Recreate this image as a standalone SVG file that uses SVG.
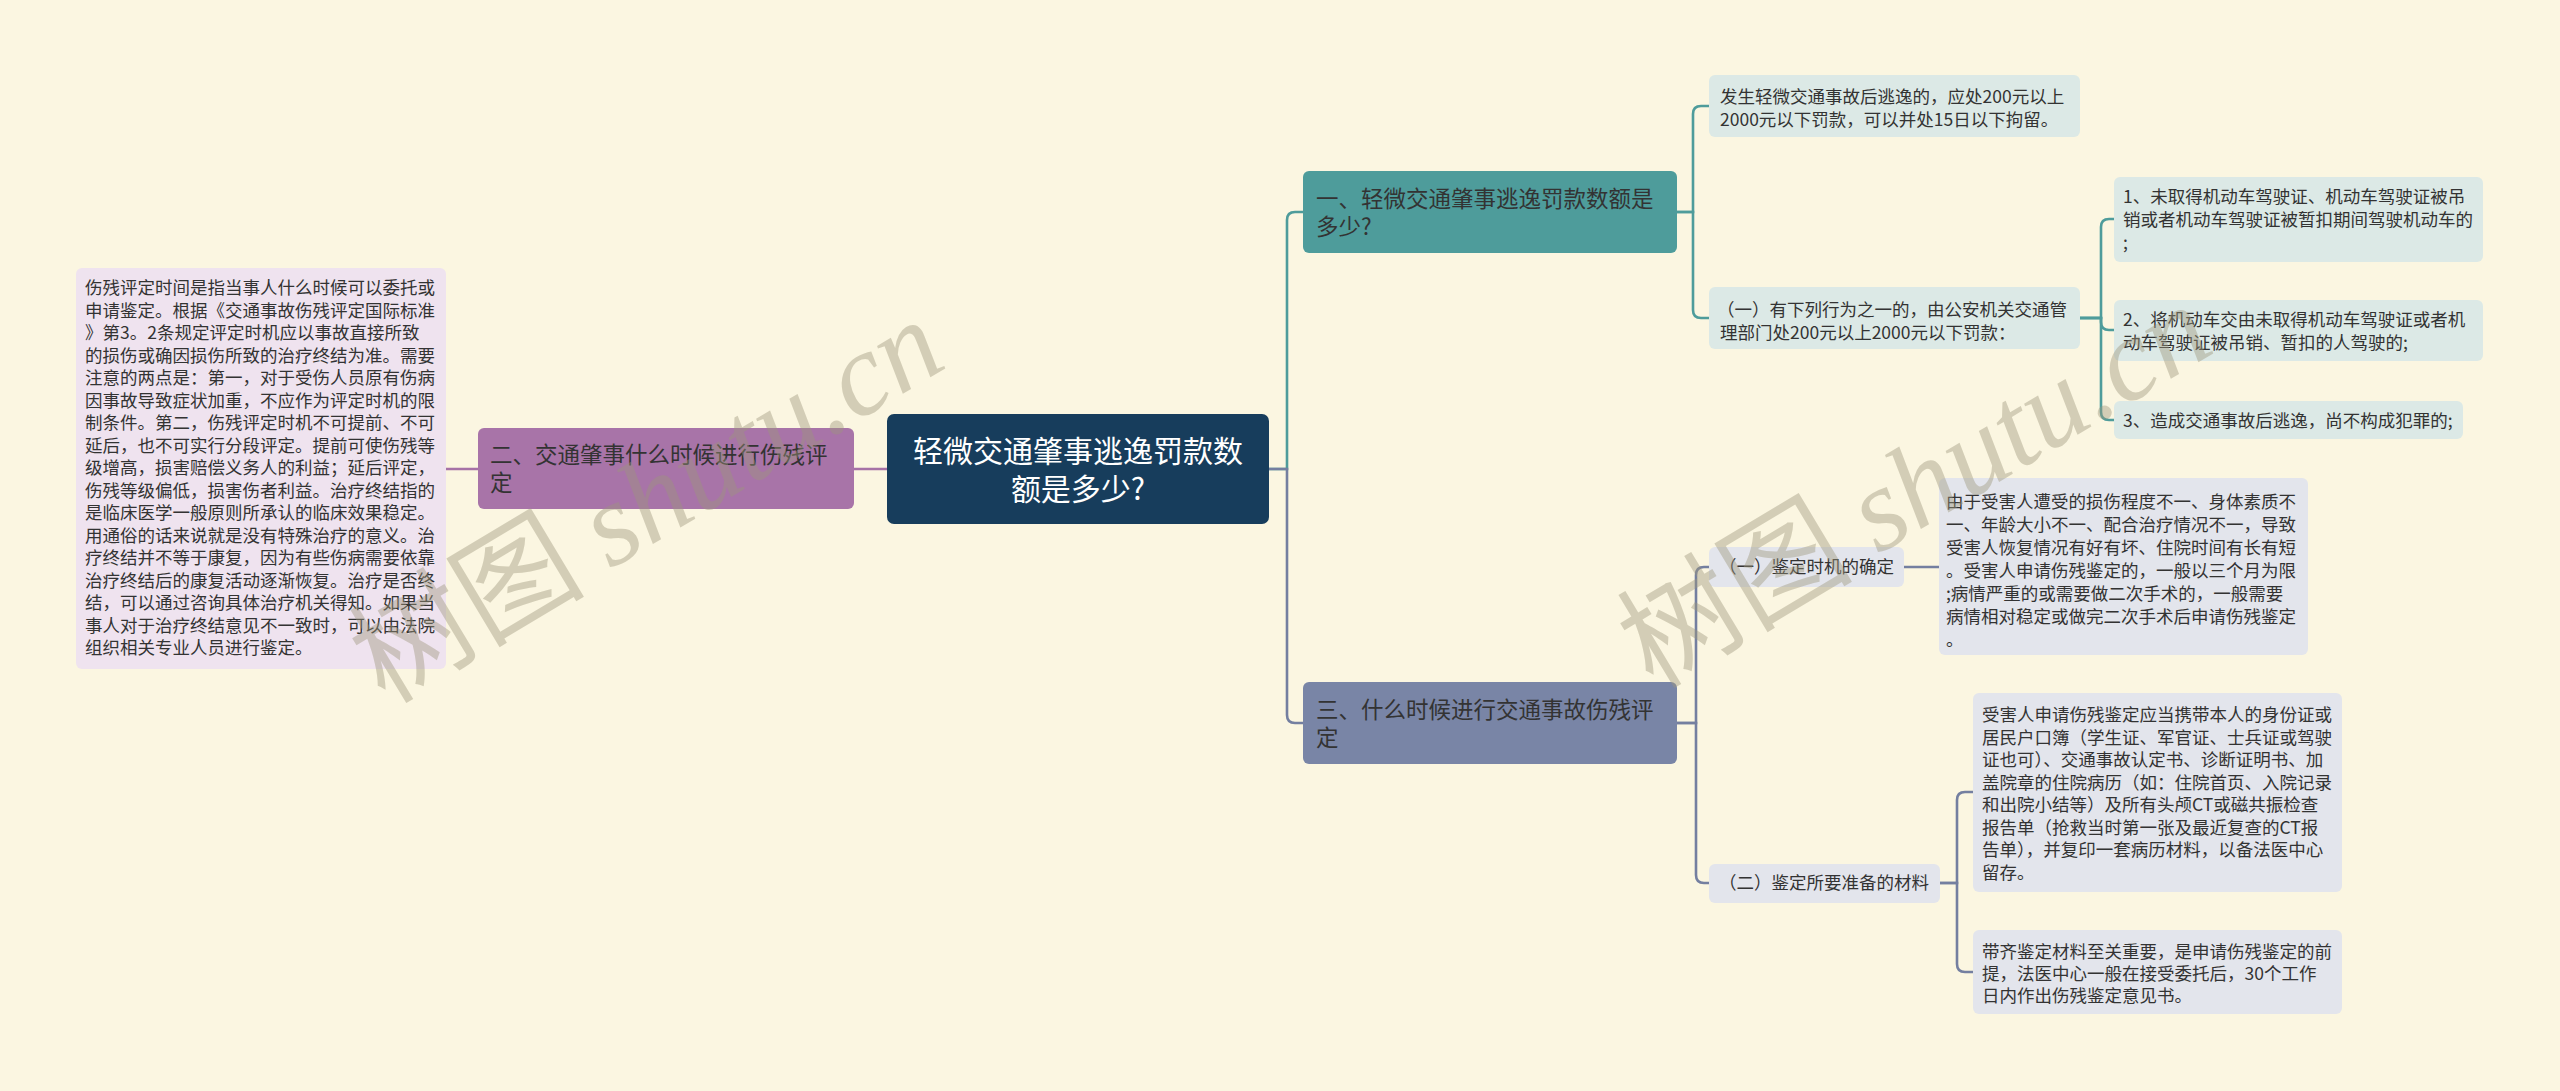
<svg xmlns="http://www.w3.org/2000/svg" width="2560" height="1091" viewBox="0 0 2560 1091">
<style>
text{font-family:"Noto Sans CJK SC","Liberation Sans",sans-serif;fill:#333;}
.c{fill:none;stroke-width:2.6;stroke-linecap:round;}
.pc{stroke:#a672a6;}
.tc{stroke:#4e9c9b;}
.sc{stroke:#747fa0;}
.t{font-size:17.5px;}
.b{font-size:22.5px;}
.center{font-size:30px;fill:#fff;text-anchor:middle;}
.lp{fill:#efe3ef;}
.lt{fill:#dce9e6;}
.ls{fill:#e3e5ec;}
.wm{font-size:118px;fill:#9e977c;opacity:0.42;}
</style>
<rect x="0" y="0" width="2560" height="1091" fill="#fbf6e1"/>
<g id="connectors">
<path class="c pc" d="M887 469 H854"/>
<path class="c pc" d="M478 469 H446"/>
<path class="c tc" d="M1269 469 H1287 V220 Q1287 212 1295 212 H1303"/>
<path class="c sc" d="M1269 469 H1287 V715 Q1287 723 1295 723 H1303"/>
<path class="c tc" d="M1677 212 H1693 V114 Q1693 106 1701 106 H1709"/>
<path class="c tc" d="M1677 212 H1693 V310 Q1693 318 1701 318 H1709"/>
<path class="c tc" d="M2080 318 H2101 V227 Q2101 219 2109 219 H2114"/>
<path class="c tc" d="M2080 318 H2101 V322 Q2101 330 2109 330 H2114"/>
<path class="c tc" d="M2080 318 H2101 V412 Q2101 420 2109 420 H2114"/>
<path class="c sc" d="M1677 723 H1696 V575 Q1696 567 1704 567 H1709"/>
<path class="c sc" d="M1677 723 H1696 V875 Q1696 883 1704 883 H1709"/>
<path class="c sc" d="M1904 567 H1939"/>
<path class="c sc" d="M1940 883 H1957 V800 Q1957 792 1965 792 H1973"/>
<path class="c sc" d="M1940 883 H1957 V964 Q1957 972 1965 972 H1973"/>
</g>
<g id="node-center">
<rect x="887" y="414" width="382" height="110" rx="7" fill="#173d5c"/>
<text class="center"><tspan x="1078" y="462">轻微交通肇事逃逸罚款数</tspan><tspan x="1078" y="500">额是多少?</tspan></text>
</g>
<g id="node-b2">
<rect x="478" y="428" width="376" height="81" rx="6" fill="#a874a8"/>
<text class="b"><tspan x="490" y="463">二、交通肇事什么时候进行伤残评</tspan><tspan x="490" y="491">定</tspan></text>
</g>
<g id="node-b2-leaf">
<rect x="76" y="268" width="370" height="401" rx="6" class="lp"/>
<text class="t">
<tspan x="85" y="294">伤残评定时间是指当事人什么时候可以委托或</tspan>
<tspan x="85" y="316.5">申请鉴定。根据《交通事故伤残评定国际标准</tspan>
<tspan x="85" y="339">》第3。2条规定评定时机应以事故直接所致</tspan>
<tspan x="85" y="361.5">的损伤或确因损伤所致的治疗终结为准。需要</tspan>
<tspan x="85" y="384">注意的两点是：第一，对于受伤人员原有伤病</tspan>
<tspan x="85" y="406.5">因事故导致症状加重，不应作为评定时机的限</tspan>
<tspan x="85" y="429">制条件。第二，伤残评定时机不可提前、不可</tspan>
<tspan x="85" y="451.5">延后，也不可实行分段评定。提前可使伤残等</tspan>
<tspan x="85" y="474">级增高，损害赔偿义务人的利益；延后评定，</tspan>
<tspan x="85" y="496.5">伤残等级偏低，损害伤者利益。治疗终结指的</tspan>
<tspan x="85" y="519">是临床医学一般原则所承认的临床效果稳定。</tspan>
<tspan x="85" y="541.5">用通俗的话来说就是没有特殊治疗的意义。治</tspan>
<tspan x="85" y="564">疗终结并不等于康复，因为有些伤病需要依靠</tspan>
<tspan x="85" y="586.5">治疗终结后的康复活动逐渐恢复。治疗是否终</tspan>
<tspan x="85" y="609">结，可以通过咨询具体治疗机关得知。如果当</tspan>
<tspan x="85" y="631.5">事人对于治疗终结意见不一致时，可以由法院</tspan>
<tspan x="85" y="654">组织相关专业人员进行鉴定。</tspan>
</text>
</g>
<g id="node-b1">
<rect x="1303" y="171" width="374" height="82" rx="6" fill="#4e9c9b"/>
<text class="b"><tspan x="1316" y="207">一、轻微交通肇事逃逸罚款数额是</tspan><tspan x="1316" y="235">多少?</tspan></text>
</g>
<g id="node-b1-leaf">
<rect x="1709" y="75" width="371" height="62" rx="6" class="lt"/>
<text class="t"><tspan x="1720" y="103">发生轻微交通事故后逃逸的，应处200元以上</tspan><tspan x="1720" y="126">2000元以下罚款，可以并处15日以下拘留。</tspan></text>
</g>
<g id="node-b1-sub">
<rect x="1709" y="287" width="371" height="62" rx="6" class="lt"/>
<text class="t"><tspan x="1717" y="316">（一）有下列行为之一的，由公安机关交通管</tspan><tspan x="1720" y="339">理部门处200元以上2000元以下罚款：</tspan></text>
</g>
<g id="node-b1-sub-1">
<rect x="2114" y="177" width="369" height="85" rx="6" class="lt"/>
<text class="t"><tspan x="2123" y="203">1、未取得机动车驾驶证、机动车驾驶证被吊</tspan><tspan x="2123" y="226">销或者机动车驾驶证被暂扣期间驾驶机动车的</tspan><tspan x="2123" y="249">;</tspan></text>
</g>
<g id="node-b1-sub-2">
<rect x="2114" y="300" width="369" height="61" rx="6" class="lt"/>
<text class="t"><tspan x="2123" y="326">2、将机动车交由未取得机动车驾驶证或者机</tspan><tspan x="2123" y="349">动车驾驶证被吊销、暂扣的人驾驶的;</tspan></text>
</g>
<g id="node-b1-sub-3">
<rect x="2114" y="401" width="349" height="38" rx="6" class="lt"/>
<text class="t"><tspan x="2123" y="427">3、造成交通事故后逃逸，尚不构成犯罪的;</tspan></text>
</g>
<g id="node-b3">
<rect x="1303" y="682" width="374" height="82" rx="6" fill="#7985a6"/>
<text class="b"><tspan x="1316" y="718">三、什么时候进行交通事故伤残评</tspan><tspan x="1316" y="746">定</tspan></text>
</g>
<g id="node-b3-sub1">
<rect x="1709" y="547" width="195" height="40" rx="6" class="ls"/>
<text class="t"><tspan x="1719" y="573">（一）鉴定时机的确定</tspan></text>
</g>
<g id="node-b3-sub1-leaf">
<rect x="1939" y="478" width="369" height="177" rx="6" class="ls"/>
<text class="t">
<tspan x="1946" y="508">由于受害人遭受的损伤程度不一、身体素质不</tspan>
<tspan x="1946" y="531">一、年龄大小不一、配合治疗情况不一，导致</tspan>
<tspan x="1946" y="554">受害人恢复情况有好有坏、住院时间有长有短</tspan>
<tspan x="1946" y="577">。受害人申请伤残鉴定的，一般以三个月为限</tspan>
<tspan x="1946" y="600">;病情严重的或需要做二次手术的，一般需要</tspan>
<tspan x="1946" y="623">病情相对稳定或做完二次手术后申请伤残鉴定</tspan>
<tspan x="1946" y="646">。</tspan>
</text>
</g>
<g id="node-b3-sub2">
<rect x="1709" y="864" width="231" height="39" rx="6" class="ls"/>
<text class="t"><tspan x="1719" y="889">（二）鉴定所要准备的材料</tspan></text>
</g>
<g id="node-b3-sub2-leaf1">
<rect x="1973" y="693" width="369" height="199" rx="6" class="ls"/>
<text class="t">
<tspan x="1982" y="721">受害人申请伤残鉴定应当携带本人的身份证或</tspan>
<tspan x="1982" y="744">居民户口簿（学生证、军官证、士兵证或驾驶</tspan>
<tspan x="1982" y="766">证也可）、交通事故认定书、诊断证明书、加</tspan>
<tspan x="1982" y="789">盖院章的住院病历（如：住院首页、入院记录</tspan>
<tspan x="1982" y="811">和出院小结等）及所有头颅CT或磁共振检查</tspan>
<tspan x="1982" y="834">报告单（抢救当时第一张及最近复查的CT报</tspan>
<tspan x="1982" y="856">告单），并复印一套病历材料，以备法医中心</tspan>
<tspan x="1982" y="879">留存。</tspan>
</text>
</g>
<g id="node-b3-sub2-leaf2">
<rect x="1973" y="930" width="369" height="84" rx="6" class="ls"/>
<text class="t">
<tspan x="1982" y="958">带齐鉴定材料至关重要，是申请伤残鉴定的前</tspan>
<tspan x="1982" y="980">提，法医中心一般在接受委托后，30个工作</tspan>
<tspan x="1982" y="1002">日内作出伤残鉴定意见书。</tspan>
</text>
</g>
<g id="watermarks">
<text class="wm" transform="translate(385 705) rotate(-31)">树图 <tspan font-family="Liberation Serif" font-style="italic">shutu.cn</tspan></text>
<text class="wm" transform="translate(1653 690) rotate(-31)">树图 <tspan font-family="Liberation Serif" font-style="italic">shutu.cn</tspan></text>
</g>
</svg>
